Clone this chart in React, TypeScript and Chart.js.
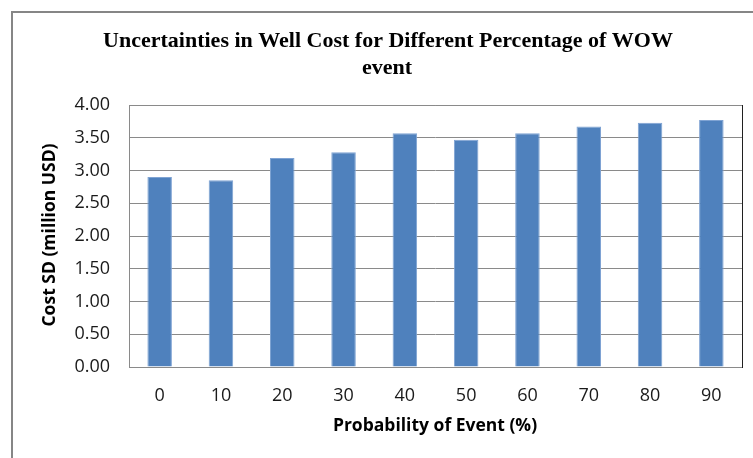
import React, { useEffect, useRef } from "react";
import { Chart, registerables } from "chart.js";

Chart.register(...registerables);

const categories = ["0", "10", "20", "30", "40", "50", "60", "70", "80", "90"];
const costSD = [2.9, 2.85, 3.19, 3.28, 3.57, 3.47, 3.57, 3.67, 3.73, 3.77];
const titleLines = ["Uncertainties in Well Cost for Different Percentage of WOW", "event"];
const xTitle = "Probability of Event (%)";
const yTitle = "Cost SD (million USD)";

const W = 753;
const H = 458;
const SANS = "'Open Sans', 'Liberation Sans', sans-serif";

const framePlugin = {
  id: "frame",
  beforeDraw(chart: any) {
    const ctx = chart.ctx;
    ctx.save();
    ctx.fillStyle = "#ffffff";
    ctx.fillRect(0, 0, W, H);
    ctx.strokeStyle = "#868686";
    ctx.lineWidth = 2;
    ctx.beginPath();
    ctx.moveTo(W + 10, 12);
    ctx.lineTo(12, 12);
    ctx.lineTo(12, H + 10);
    ctx.stroke();
    ctx.fillStyle = "#000000";
    ctx.font = "bold 22px 'Liberation Serif', 'Times New Roman', serif";
    ctx.textAlign = "center";
    ctx.textBaseline = "middle";
    ctx.fillText(titleLines[0], 388, 41);
    ctx.fillText(titleLines[1], 387, 68);
    ctx.font = "bold 17.5px " + SANS;
    ctx.fillText(xTitle, 435, 426);
    ctx.translate(50, 235);
    ctx.rotate(-Math.PI / 2);
    ctx.fillText(yTitle, 0, 0);
    ctx.restore();
  },
  afterDatasetsDraw(chart: any) {
    const { left, right, top, bottom } = chart.chartArea;
    const ctx = chart.ctx;
    ctx.save();
    ctx.lineWidth = 1;
    ctx.strokeStyle = "#8a8a8a";
    ctx.beginPath();
    ctx.moveTo(right, top + 0.5);
    ctx.lineTo(left + 0.5, top + 0.5);
    ctx.lineTo(left + 0.5, bottom + 0.5);
    ctx.lineTo(right, bottom + 0.5);
    ctx.stroke();
    ctx.strokeStyle = "#202020";
    ctx.beginPath();
    ctx.moveTo(right + 0.5, top);
    ctx.lineTo(right + 0.5, bottom + 1);
    ctx.stroke();
    ctx.restore();
  },
};

export default function App() {
  const ref = useRef<HTMLCanvasElement | null>(null);
  useEffect(() => {
    if (!ref.current) return;
    const tickFont = { family: SANS, size: 18 };
    const chart = new Chart(ref.current, {
      type: "bar",
      data: {
        labels: categories,
        datasets: [
          {
            data: costSD,
            backgroundColor: "#4F81BD",
            borderColor: "#7FA3D3",
            borderWidth: 1,
            categoryPercentage: 1,
            barPercentage: 0.4,
          },
        ],
      },
      options: {
        responsive: false,
        animation: false,
        layout: { padding: { left: 0, right: 11, top: 105, bottom: 0 } },
        plugins: { legend: { display: false }, title: { display: false }, tooltip: { enabled: false } },
        scales: {
          x: {
            grid: { display: false },
            border: { display: false },
            ticks: { color: "#1a1a1a", font: tickFont, padding: 10, maxRotation: 0 },
            afterFit(scale: any) {
              scale.height = 91;
            },
          },
          y: {
            min: 0,
            max: 4,
            grid: { color: "#8a8a8a", drawTicks: false },
            border: { display: false },
            ticks: {
              stepSize: 0.5,
              color: "#1a1a1a",
              font: tickFont,
              padding: 19,
              callback: (v: any) => Number(v).toFixed(2),
            },
            afterFit(scale: any) {
              scale.width = 129;
            },
          },
        },
      },
      plugins: [framePlugin],
    });
    return () => chart.destroy();
  }, []);
  return (
    <div style={{ position: "fixed", left: 0, top: 0, width: W, height: H, background: "#fff" }}>
      <canvas ref={ref} width={W} height={H} style={{ display: "block" }} />
    </div>
  );
}
